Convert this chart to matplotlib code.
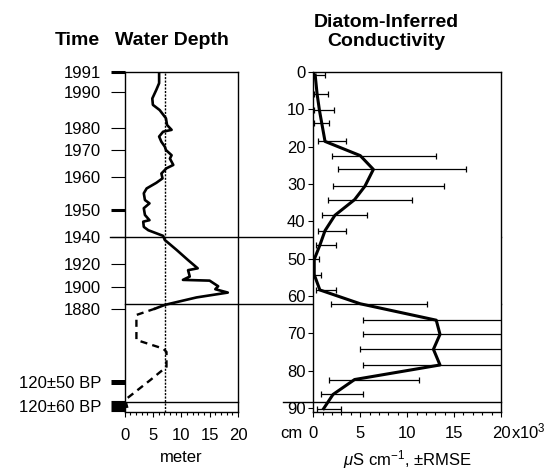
import matplotlib
matplotlib.use('Agg')
import matplotlib.pyplot as plt
import matplotlib.transforms as mtransforms
from matplotlib.lines import Line2D
from matplotlib.ticker import MultipleLocator

plt.rcParams['font.family'] = ['Liberation Sans', 'DejaVu Sans']
plt.rcParams['mathtext.fontset'] = 'custom'
plt.rcParams['mathtext.rm'] = 'Liberation Sans'
plt.rcParams['mathtext.it'] = 'Liberation Sans:italic'
plt.rcParams['mathtext.bf'] = 'Liberation Sans:bold'

# time scale (labels on the depth axis, cm)
time_labels = ['1991', '1990', '1980', '1970', '1960', '1950', '1940',
               '1920', '1900', '1880', '120±50 BP', '120±60 BP']
time_depth = [0, 5.4, 15.1, 20.9, 28.1, 37.0, 44.1, 51.5, 57.6, 63.6, 83.0, 89.5]
time_tick_w = [2.2, 0.8, 0.8, 0.8, 0.8, 2.2, 0.8, 0.8, 0.8, 0.8, 3.6, 8.0]

# water depth (meter) vs core depth (cm), historical part
wd_depth = [0, 3.0, 4.8, 7.1, 8.8, 10.2, 12.4, 14.2, 15.5, 16.0, 17.3, 18.7, 20.0,
            20.9, 22.3, 23.2, 24.9, 25.8, 27.2, 28.5, 29.7, 31.2, 32.5, 34.3, 35.2,
            36.5, 38.3, 39.7, 40.1, 41.5, 42.4, 43.9, 45.0, 47.7, 50.4, 52.6, 53.1,
            54.8, 55.7, 55.9, 57.4, 58.2, 59.1, 60.4, 62.4, 63.4]
wd_meter = [6.1, 6.1, 5.6, 4.9, 5.0, 6.2, 7.3, 7.5, 8.3, 6.8, 6.1, 6.5, 7.1,
            7.3, 8.3, 8.0, 8.6, 7.4, 6.5, 6.7, 5.6, 3.9, 3.4, 3.6, 4.4,
            3.4, 3.6, 4.4, 3.3, 3.4, 4.2, 6.8, 7.1, 9.2, 11.2, 12.9, 11.2,
            11.5, 10.3, 15.0, 16.5, 16.0, 18.2, 12.7, 7.1, 5.4]
# inferred part (dashed)
wd_depth_inf = [63.4, 65.1, 71.8, 74.1, 75.0, 79.0, 82.6, 87.5, 88.8, 90.0]
wd_meter_inf = [5.4, 2.1, 2.1, 6.8, 7.4, 7.4, 4.5, 0.4, 0.3, 0.5]
wd_mean = 7.2

# diatom-inferred conductivity (x10^3 uS/cm) with RMSE range
cond_depth = [0.8, 5.8, 10.2, 13.7, 18.6, 22.4, 26.1, 30.6, 34.2, 38.4, 42.5, 46.4,
              50.2, 54.3, 58.4, 62.1, 66.5, 70.3, 74.3, 78.5, 82.4, 86.4, 90.2]
cond_value = [0.2, 0.4, 0.65, 0.9, 1.25, 5.0, 6.4, 5.5, 4.4, 2.3, 1.25, 0.7,
              0.1, 0.1, 0.7, 5.0, 13.1, 13.5, 12.8, 13.5, 4.4, 2.1, 1.1]
cond_low = [0.05, 0.05, 0.05, 0.05, 0.55, 1.95, 2.6, 2.15, 1.6, 0.9, 0.55, 0.25,
            0.02, 0.02, 0.25, 1.9, 5.25, 5.25, 5.0, 5.25, 1.7, 0.8, 0.35]
cond_high = [1.25, 1.6, 2.2, 1.7, 3.45, 13.1, 16.3, 13.9, 10.5, 5.7, 3.45, 2.4,
             0.6, 0.8, 2.4, 12.1, 30, 30, 30, 30, 11.3, 5.25, 2.9]

# zone boundaries (cm)
zones = [44.1, 62.2, 88.3]

W, H = 551, 473
fig = plt.figure(figsize=(W / 100, H / 100), dpi=100)
ax1 = fig.add_axes([124.5 / W, 1 - 412 / H, 113.5 / W, 340 / H])
ax2 = fig.add_axes([313.3 / W, 1 - 412 / H, 187.7 / W, 340 / H])

for ax in (ax1, ax2):
    ax.set_ylim(91.1, 0)
    for s in ax.spines.values():
        s.set_linewidth(1.0)

# left panel: water depth
ax1.plot(wd_meter, wd_depth, color='black', lw=1.9, solid_joinstyle='round')
ax1.plot(wd_meter_inf, wd_depth_inf, color='black', lw=1.7, linestyle=(0, (3, 2.2)))
ax1.axvline(wd_mean, color='black', lw=1.0, linestyle=(0, (1.5, 1)))
ax1.set_xlim(0, 20)
ax1.set_xticks([0, 5, 10, 15, 20])
ax1.xaxis.set_minor_locator(MultipleLocator(1))
ax1.set_yticks(time_depth)
ax1.set_yticklabels(time_labels)
ax1.tick_params(axis='y', direction='out', length=10, width=0.8, pad=7, labelsize=12)
ax1.tick_params(axis='x', which='major', direction='out', length=3.6, width=0.8, pad=8, labelsize=12)
ax1.tick_params(axis='x', which='minor', direction='out', length=2.2, width=0.8)
for tick, w in zip(ax1.yaxis.get_major_ticks(), time_tick_w):
    tick.tick1line.set_markeredgewidth(w)
ax1.set_xlabel('meter', fontsize=12, labelpad=5)

# right panel: conductivity
xerr = [[v - lo for v, lo in zip(cond_value, cond_low)],
        [hi - v for v, hi in zip(cond_value, cond_high)]]
ax2.errorbar(cond_value, cond_depth, xerr=xerr, fmt='none', ecolor='black',
             elinewidth=0.9, capsize=2.2, capthick=0.9)
ax2.plot(cond_value, cond_depth, color='black', lw=2.2, solid_joinstyle='round')
ax2.set_xlim(0, 20)
ax2.set_xticks([0, 5, 10, 15, 20])
ax2.xaxis.set_minor_locator(MultipleLocator(1))
ax2.set_yticks(range(0, 100, 10))
ax2.tick_params(axis='y', direction='out', length=3.6, width=0.8, pad=2, labelsize=12)
ax2.tick_params(axis='x', which='major', direction='out', length=3.6, width=0.8, pad=6.5, labelsize=12)
ax2.tick_params(axis='x', which='minor', direction='out', length=2.2, width=0.8)
ax2.set_xlabel(r'$\mu$S cm$^{-1}$, ±RMSE', fontsize=12, labelpad=5)
ax2.text(1.052, -0.0774, r'x10$^{3}$', transform=ax2.transAxes, ha='left',
         va='baseline', fontsize=12)
ax2.text(-0.06, -0.0774, 'cm', transform=ax2.transAxes, ha='right',
         va='baseline', fontsize=12)

# zone boundary lines running across both panels
tr1 = mtransforms.blended_transform_factory(ax1.transAxes, ax1.transData)
tr2 = mtransforms.blended_transform_factory(ax2.transAxes, ax2.transData)
ax1.add_line(Line2D([-0.128, 3.317], [zones[0]] * 2, transform=tr1, color='black',
                    lw=1.0, clip_on=False))
ax1.add_line(Line2D([0, 3.317], [zones[1]] * 2, transform=tr1, color='black',
                    lw=1.0, clip_on=False))
ax1.add_line(Line2D([0, 1], [zones[2]] * 2, transform=tr1, color='black',
                    lw=1.0, clip_on=False))
ax2.add_line(Line2D([-0.16, 1], [zones[2]] * 2, transform=tr2, color='black',
                    lw=1.0, clip_on=False))

# titles
fig.text(77.5 / W, 1 - 45 / H, 'Time', ha='center', va='baseline',
         fontsize=14, fontweight='bold')
fig.text(171.5 / W, 1 - 45 / H, 'Water Depth', ha='center', va='baseline',
         fontsize=14, fontweight='bold')
fig.text(386.5 / W, 1 - 27 / H, 'Diatom-Inferred', ha='center', va='baseline',
         fontsize=14, fontweight='bold')
fig.text(386.5 / W, 1 - 46 / H, 'Conductivity', ha='center', va='baseline',
         fontsize=14, fontweight='bold')

fig.savefig('out.png', dpi=100)
